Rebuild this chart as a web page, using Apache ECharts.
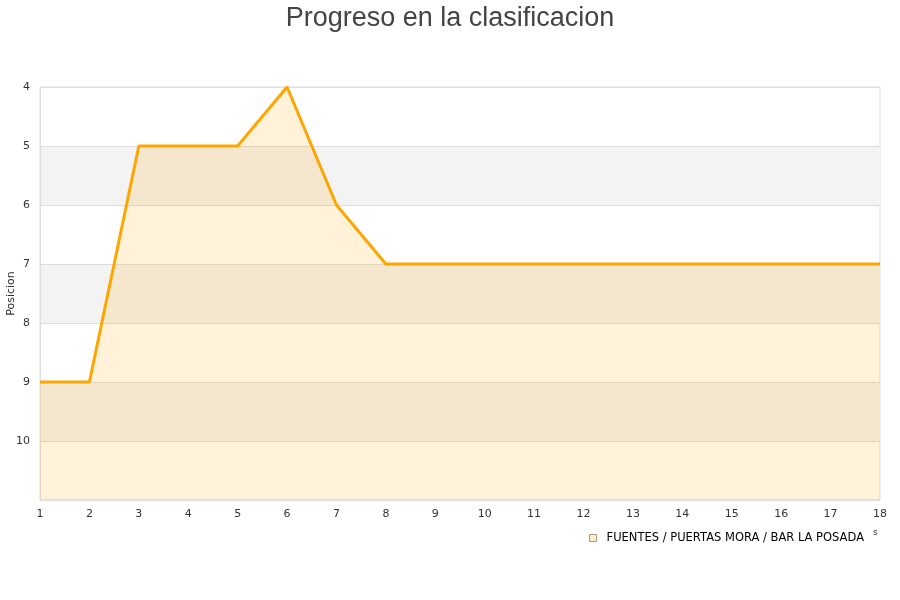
<!DOCTYPE html>
<html><head><meta charset="utf-8">
<script src="https://cdn.jsdelivr.net/npm/echarts@6/dist/echarts.min.js"></script>
<style>html,body{margin:0;padding:0;background:#fff}#c{width:900px;height:600px}</style>
</head><body><div id="c"></div>
<script>
var jornadas = [1,2,3,4,5,6,7,8,9,10,11,12,13,14,15,16,17,18];
var posiciones = [9,9,5,5,5,4,6,7,7,7,7,7,7,7,7,7,7,7];
var equipo = 'FUENTES / PUERTAS MORA / BAR LA POSADA';
var titulo = 'Progreso en la clasificacion';

var chart = echarts.init(document.getElementById('c'));
chart.setOption({
  animation: false,
  title: {text: titulo, left: 'center', top: 0,
    textStyle: {fontFamily: 'Liberation Sans', fontSize: 27, fontWeight: 'normal', color: '#444'}},
  grid: {left: 40, right: 20, top: 87, bottom: 100, containLabel: false, outerBoundsMode: 'none',
    show: true, borderColor: '#ddd', borderWidth: 1, backgroundColor: 'transparent'},
  legend: {
    data: [{name: equipo, icon: 'rect', itemStyle: {color: '#FFEDCC', borderColor: '#a89a80', borderWidth: 1}}],
    right: 31, top: 527, itemWidth: 7, itemHeight: 7, itemGap: 10,
    textStyle: {fontFamily: 'DejaVu Sans', fontSize: 11.5, color: '#000', padding: [0, 0, 0, 5]}
  },
  graphic: [{type: 'text', left: 873, top: 528, style: {text: 's', font: '9px DejaVu Sans', fill: '#333'}}],
  xAxis: {
    type: 'value', min: 1, max: 18, interval: 1,
    axisLine: {show: true, lineStyle: {color: '#ddd'}},
    axisTick: {show: false},
    splitLine: {show: false},
    axisLabel: {color: '#333', fontFamily: 'DejaVu Sans', fontSize: 11, margin: 9}
  },
  yAxis: {
    type: 'value', inverse: true, min: 4, max: 11, interval: 1,
    name: 'Posicion', nameLocation: 'middle', nameGap: 23, nameMoveOverlap: false,
    nameTextStyle: {fontFamily: 'DejaVu Sans', fontSize: 11, color: '#333'},
    axisLine: {show: true, lineStyle: {color: '#ddd'}},
    axisTick: {show: false},
    axisLabel: {color: '#333', fontFamily: 'DejaVu Sans', fontSize: 11, margin: 10,
      formatter: function(v){ return v === 11 ? '' : v; }},
    splitLine: {show: true, lineStyle: {color: '#ddd'}},
    splitArea: {show: true, areaStyle: {color: ['rgba(255,255,255,0)', '#f3f3f3']}}
  },
  series: [{
    name: equipo, type: 'line',
    data: jornadas.map(function(j, i){ return [j, posiciones[i]]; }),
    symbol: 'none',
    lineStyle: {color: '#FFA500', width: 3},
    itemStyle: {color: '#FFA500'},
    areaStyle: {color: 'rgba(255,165,0,0.21)', origin: 'end'}
  }]
});
</script></body></html>
